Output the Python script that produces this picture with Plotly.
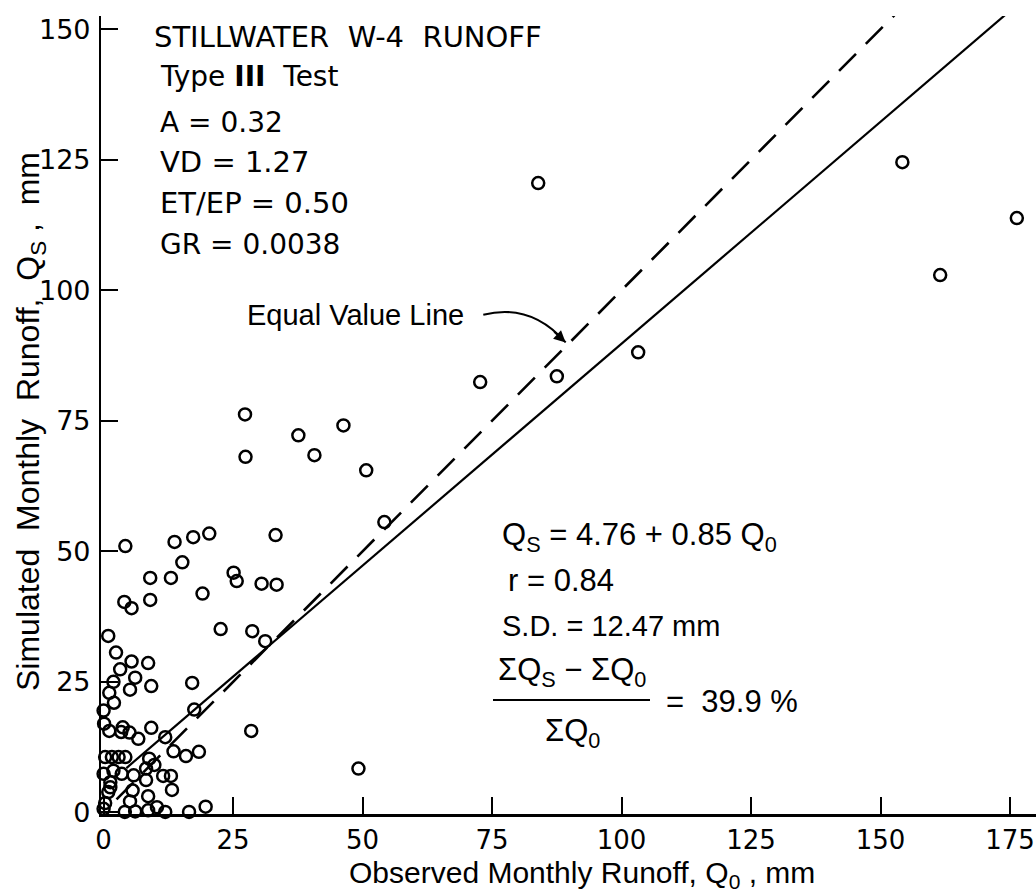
import plotly.graph_objects as go

# ---------------- data ----------------
observed = [
    83.9, 154.2, 176.3, 161.5, 103.2, 87.5, 72.7, 27.3, 27.4, 37.6, 46.3, 40.7, 50.7, 54.2, 49.2,
    4.2, 13.7, 17.3, 20.4, 33.2, 15.2, 9.0, 13.0, 25.1, 25.7, 30.5, 33.4, 19.1, 4.0, 5.4, 9.0,
    22.6, 28.7, 31.2, 0.9, 2.4, 5.4, 8.6, 3.2, 6.1, 1.9, 1.1, 5.1, 9.2, 2.0, 17.1, 0.0, 17.5,
    0.1, 1.1, 3.7, 3.4, 5.0, 6.7, 9.2, 11.9, 28.5, 13.5, 15.9, 18.4, 0.3, 1.6, 2.9, 4.2, 8.8,
    9.8, 0.0, 1.9, 3.5, 5.8, 8.2, 8.2, 11.5, 13.0, 13.2, 1.3, 1.3, 0.9, 5.6, 5.1, 8.6, 0.3,
    4.1, 6.1, 8.6, 10.3, 11.9, 16.5, 19.7, 0.0,
]
simulated = [
    120.5, 124.5, 113.8, 102.9, 88.1, 83.5, 82.4, 76.2, 68.1, 72.2, 74.1, 68.4, 65.5, 55.6, 8.4,
    51.0, 51.8, 52.7, 53.4, 53.1, 47.9, 44.9, 44.9, 45.9, 44.3, 43.8, 43.6, 41.9, 40.3, 39.1, 40.7,
    35.1, 34.7, 32.8, 33.8, 30.6, 28.9, 28.6, 27.4, 25.8, 25.0, 22.9, 23.5, 24.2, 21.0, 24.8, 19.5, 19.7,
    17.0, 15.6, 16.3, 15.4, 15.3, 14.1, 16.2, 14.4, 15.6, 11.7, 10.8, 11.6, 10.6, 10.6, 10.6, 10.6, 10.3,
    9.1, 7.4, 8.0, 7.4, 7.1, 8.4, 6.2, 7.0, 7.0, 4.3, 5.8, 4.8, 3.9, 4.2, 2.1, 3.1, 1.8,
    0.1, 0.2, 0.4, 1.0, 0.1, 0.1, 1.1, 0.7,
]

fit_intercept = 4.76
fit_slope = 0.85
fit_x = [4.4, 180.0]
equal_x = [2.5, 160.0]

x_ticks = [0, 25, 50, 75, 100, 125, 150, 175]
y_ticks = [0, 25, 50, 75, 100, 125, 150]

# ---------------- layout geometry ----------------
W, H = 1036, 892
ML, MR, MT, MB = 101, 0, 16, 78
X_RANGE = [-0.5, 180.0]
Y_RANGE = [-0.3, 152.5]


def pxx(p):
    return (p - ML) / (W - ML - MR)


def pxy(p):
    return (H - MB - p) / (H - MT - MB)


SANS = "Liberation Sans, Arial, DejaVu Sans"
REG = "DejaVu Sans, Liberation Sans, Arial"

fig = go.Figure()

fig.add_trace(go.Scatter(
    x=equal_x, y=equal_x, mode="lines",
    line=dict(color="black", width=2.6, dash="24px,14px"),
    hoverinfo="skip", showlegend=False,
))
fig.add_trace(go.Scatter(
    x=fit_x, y=[fit_intercept + fit_slope * v for v in fit_x], mode="lines",
    line=dict(color="black", width=2.2),
    hoverinfo="skip", showlegend=False,
))
fig.add_trace(go.Scatter(
    x=observed, y=simulated, mode="markers",
    marker=dict(symbol="circle-open", size=12, color="black", line=dict(width=2.5, color="black")),
    showlegend=False, cliponaxis=False,
))

annotations = []


def txt(text, x, y, size, family=REG, xanchor="left"):
    annotations.append(dict(
        text=text, x=pxx(x), y=pxy(y), xref="paper", yref="paper",
        xanchor=xanchor, yanchor="middle", showarrow=False,
        font=dict(family=family, size=size, color="black"),
    ))


# top-left block
txt("STILLWATER  W-4  RUNOFF", 152, 37, 29)
txt("Type <b>III</b>  Test", 158, 77, 28)
txt("A = 0.32", 158, 122, 28)
txt("VD = 1.27", 158, 162, 29)
txt("ET/EP = 0.50", 158, 203, 29)
txt("GR = 0.0038", 158, 244, 28)

# equal value line label
txt("Equal Value Line", 245, 315, 29, SANS)

# statistics block
txt("Q<sub>S</sub> = 4.76 + 0.85 Q<sub>0</sub>", 500, 537, 31, SANS)
txt("r = 0.84", 506, 580, 31, SANS)
txt("S.D. = 12.47 mm", 500, 626, 29, SANS)
txt("ΣQ<sub>S</sub> − ΣQ<sub>0</sub>", 572, 672, 31, SANS, "center")
txt("ΣQ<sub>0</sub>", 572, 733, 31, SANS, "center")
txt("=  39.9 %", 664, 701, 31, SANS)

# axis titles
annotations.append(dict(
    text="Observed Monthly Runoff, Q<sub>0</sub> , mm", x=pxx(582), y=pxy(874),
    xref="paper", yref="paper", xanchor="center", yanchor="middle", showarrow=False,
    font=dict(family=SANS, size=30, color="black"),
))
annotations.append(dict(
    text="Simulated  Monthly  Runoff,  Q<sub>S</sub> ,  mm", x=pxx(30), y=pxy(422),
    xref="paper", yref="paper", xanchor="center", yanchor="middle", showarrow=False,
    textangle=-90, font=dict(family=SANS, size=32, color="black"),
))

# arrowhead of the curved pointer
annotations.append(dict(
    text="", x=89.2, y=90.0, xref="x", yref="y", ax=-13, ay=-12,
    showarrow=True, arrowhead=2, arrowsize=1.3, arrowwidth=1.8, arrowcolor="black",
))

shapes = [
    # fraction bar
    dict(type="line", xref="paper", yref="paper", x0=pxx(493), x1=pxx(650), y0=pxy(700), y1=pxy(700),
         line=dict(color="black", width=2)),
    # curved pointer
    dict(type="path", xref="x", yref="y", path="M 73.3,95.3 Q 82.5,97.6 89.2,90.0",
         line=dict(color="black", width=2)),
]

fig.update_layout(
    width=W, height=H,
    margin=dict(l=ML, r=MR, t=MT, b=MB, pad=0),
    paper_bgcolor="white", plot_bgcolor="white",
    annotations=annotations, shapes=shapes,
    xaxis=dict(
        range=X_RANGE, tickvals=x_ticks, ticktext=[str(v) for v in x_ticks],
        ticks="inside", ticklen=17, tickwidth=2, tickcolor="black",
        showline=True, linecolor="black", linewidth=2.5, mirror=False,
        showgrid=False, zeroline=False, ticklabelstandoff=1,
        tickfont=dict(family=REG, size=26, color="black"),
    ),
    yaxis=dict(
        range=Y_RANGE, tickvals=y_ticks, ticktext=[str(v) for v in y_ticks],
        ticks="inside", ticklen=17, tickwidth=2, tickcolor="black",
        showline=True, linecolor="black", linewidth=2.2, mirror=False,
        showgrid=False, zeroline=False, ticklabelstandoff=3,
        tickfont=dict(family=REG, size=27, color="black"),
    ),
)

fig.write_html("out.html")
